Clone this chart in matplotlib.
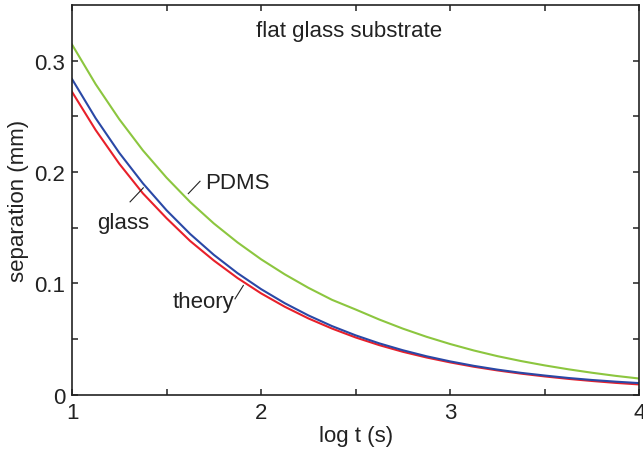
import matplotlib
matplotlib.use("Agg")
import matplotlib.pyplot as plt

plt.rcParams['font.family'] = ['Liberation Sans', 'DejaVu Sans']

log_t = [1.0, 1.125, 1.25, 1.375, 1.5, 1.625, 1.75, 1.875, 2.0, 2.125, 2.25, 2.375,
         2.5, 2.625, 2.75, 2.875, 3.0, 3.125, 3.25, 3.375, 3.5, 3.625, 3.75, 3.875, 4.0]
pdms = [0.3145, 0.2789, 0.2474, 0.2194, 0.1949, 0.1730, 0.1538, 0.1368, 0.1216,
        0.1081, 0.0960, 0.0852, 0.0765, 0.0675, 0.0593, 0.0520, 0.0455, 0.0397,
        0.0346, 0.0302, 0.0263, 0.0228, 0.0197, 0.0169, 0.0145]
glass = [0.2835, 0.2483, 0.2172, 0.1898, 0.1656, 0.1443, 0.1256, 0.1092, 0.0948,
         0.0822, 0.0712, 0.0616, 0.0533, 0.0461, 0.0399, 0.0345, 0.0299, 0.0259,
         0.0225, 0.0196, 0.0172, 0.0150, 0.0132, 0.0117, 0.0104]
theory = [0.2720, 0.2377, 0.2074, 0.1808, 0.1585, 0.1380, 0.1205, 0.1048, 0.0910,
          0.0790, 0.0685, 0.0594, 0.0514, 0.0445, 0.0385, 0.0334, 0.0290, 0.0251,
          0.0218, 0.0189, 0.0164, 0.0142, 0.0123, 0.0106, 0.0092]

x_ticks = [1, 2, 3, 4]
x_minor = [1.5, 2.5, 3.5]
y_ticks = [0, 0.1, 0.2, 0.3]
y_tick_labels = ['0', '0.1', '0.2', '0.3']
y_minor = [0.05, 0.15, 0.25]

green = '#8cc63f'
blue = '#2a48a6'
red = '#e8202a'
dark = '#222222'

fig = plt.figure(figsize=(6.43, 4.52), dpi=100)
ax = fig.add_axes([0.112, 0.1246, 0.8822, 0.8621])

ax.plot(log_t, pdms, color=green, lw=1.5)
ax.plot(log_t, theory, color=red, lw=1.5)
ax.plot(log_t, glass, color=blue, lw=1.5)

ax.set_xlim(1, 4)
ax.set_ylim(0, 0.35)
ax.set_xticks(x_ticks)
ax.set_xticklabels([str(v) for v in x_ticks])
ax.set_xticks(x_minor, minor=True)
ax.set_yticks(y_ticks)
ax.set_yticklabels(y_tick_labels)
ax.set_yticks(y_minor, minor=True)

ax.tick_params(which='both', direction='in', length=4.5, width=1.1, color=dark,
               top=True, right=True, labelsize=16, labelcolor=dark)
ax.tick_params(axis='x', which='major', pad=5)
ax.tick_params(axis='y', which='major', pad=5)
for s in ax.spines.values():
    s.set_linewidth(1.2)
    s.set_color(dark)

ax.set_xlabel('log t (s)', fontsize=16, color=dark, labelpad=2)
ax.set_ylabel('separation (mm)', fontsize=16, color=dark, labelpad=4)

ax.text(2.466, 0.327, 'flat glass substrate', fontsize=16, color=dark,
        ha='center', va='center')

# annotations
ax.plot([1.615, 1.677], [0.1806, 0.1917], color=dark, lw=0.8)
ax.text(1.704, 0.1905, 'PDMS', fontsize=16, color=dark, ha='left', va='center')

ax.plot([1.307, 1.377], [0.1732, 0.1858], color=dark, lw=0.8)
ax.text(1.270, 0.1545, 'glass', fontsize=16, color=dark, ha='center', va='center')

ax.plot([1.862, 1.906], [0.0861, 0.0981], color=dark, lw=0.8)
ax.text(1.693, 0.0834, 'theory', fontsize=16, color=dark, ha='center', va='center')

fig.savefig('out.png', dpi=100)
